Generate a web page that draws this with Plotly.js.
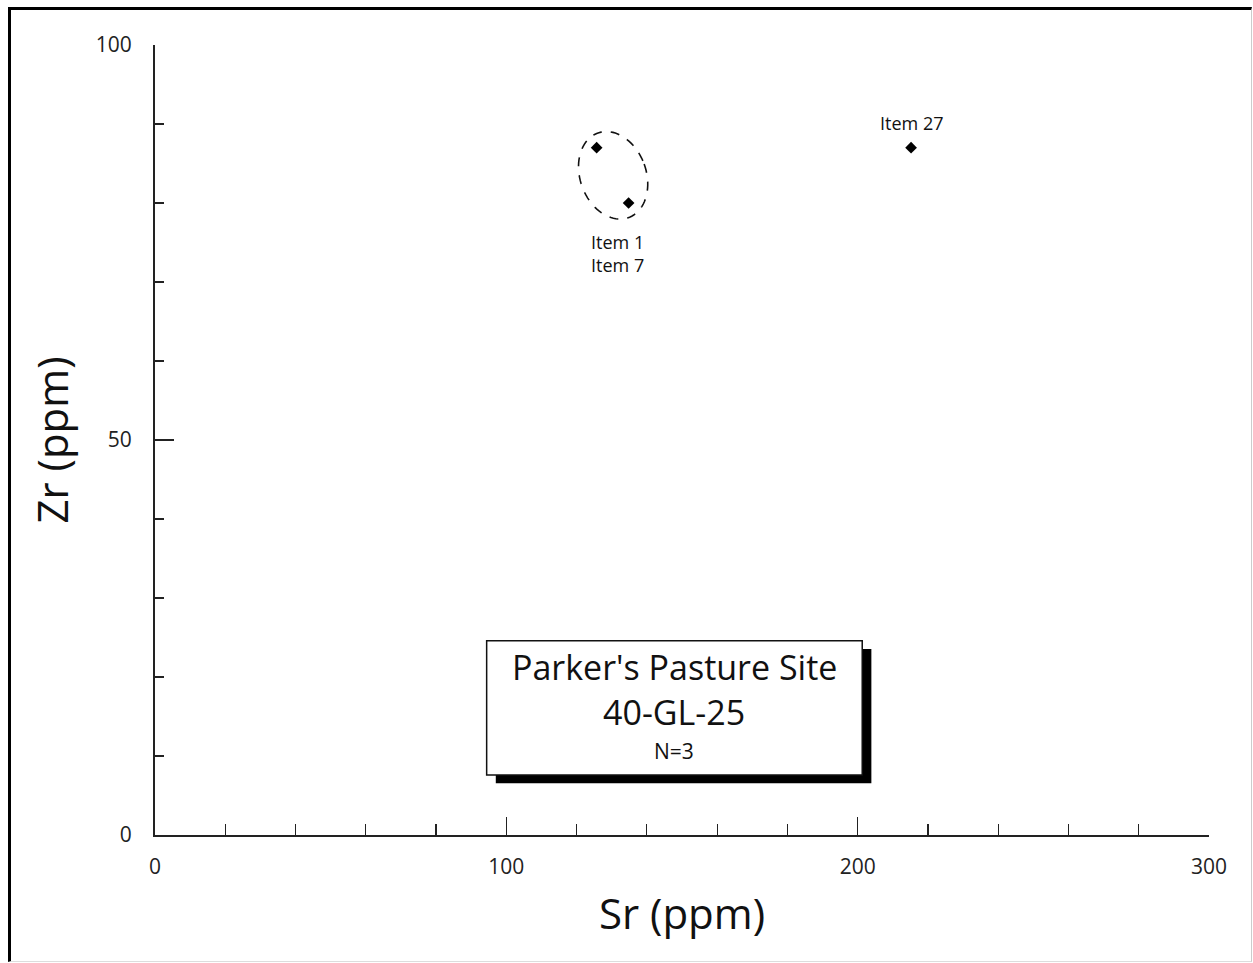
<!DOCTYPE html>
<html>
<head>
<meta charset="utf-8">
<script src="https://cdn.plot.ly/plotly-3.0.1.min.js"></script>
<style>
  html, body { margin: 0; padding: 0; background: #fff; }
  #wrap { position: relative; width: 1253px; height: 963px; }
  #chart { position: absolute; left: 0; top: 0; width: 1253px; height: 963px; }
  #frame { position: absolute; left: 8px; top: 7px; width: 1240px; height: 951px;
           border-top: 3px solid #000; border-left: 3px solid #000;
           border-right: 1px solid #ccc; border-bottom: 1px solid #ddd;
           pointer-events: none; }
</style>
</head>
<body>
<div id="wrap"><div id="chart"></div><div id="frame"></div></div>
<script>
// Data
const itemNames = ["Item 1", "Item 7", "Item 27"];
const srPpm = [125.7, 134.8, 215.2];
const zrPpm = [87, 80, 87];
const pointLabels = ["", "", "Item 27"];
const clusterLabel = "Item 1<br>Item 7";
const xTickVals = [0, 100, 200, 300];
const yTickVals = [0, 50, 100];
const boxLines = ["Parker's Pasture Site", "40-GL-25", "N=3"];

const FONT = "Open Sans, Lato, sans-serif";

const trace = {
  type: "scatter",
  mode: "markers",
  x: srPpm,
  y: zrPpm,
  name: "",
  hovertext: itemNames,
  marker: { symbol: "diamond", size: 9, color: "#000" },
  cliponaxis: false,
  showlegend: false
};

// Dashed tilted ellipse around the Item 1 / Item 7 cluster
const PX_PER_X = 1054 / 300, PX_PER_Y = 790 / 100;
const ell = { cx: 130.4, cy: 83.5, a: 33, b: 45, phi: -20 };
function ellipsePath(e) {
  const ph = e.phi * Math.PI / 180;
  let d = "";
  for (let t = 0; t <= 360; t += 4) {
    const r = t * Math.PI / 180;
    const dx = e.a * Math.cos(r), dy = e.b * Math.sin(r);
    const X = dx * Math.cos(ph) - dy * Math.sin(ph);
    const Y = dx * Math.sin(ph) + dy * Math.cos(ph);
    const xv = e.cx + X / PX_PER_X, yv = e.cy - Y / PX_PER_Y;
    d += (t === 0 ? "M" : "L") + xv.toFixed(3) + "," + yv.toFixed(3);
  }
  return d + "Z";
}

// Text box (data coordinates)
const bx0 = 94.4, bx1 = 201.3, by0 = 7.6, by1 = 24.6;
const shadowDx = 2.6, shadowDy = 1.05;

const pointAnnotations = pointLabels.map((t, i) => t ? {
  xref: "x", yref: "y", x: srPpm[i], y: zrPpm[i], text: t, yshift: 25,
  showarrow: false, font: { family: FONT, size: 18, color: "#111" }
} : null).filter(Boolean);

const layout = {
  width: 1253,
  height: 963,
  margin: { l: 155, r: 44, t: 45, b: 128 },
  paper_bgcolor: "#fff",
  plot_bgcolor: "#fff",
  showlegend: false,
  font: { family: FONT, color: "#111" },
  xaxis: {
    range: [0, 300],
    showgrid: false, zeroline: false,
    showline: true, linecolor: "#222", linewidth: 2,
    ticks: "inside", ticklen: 18, tickwidth: 1.5, tickcolor: "#222",
    tickmode: "array", tickvals: xTickVals,
    ticktext: xTickVals.map(String),
    minor: { dtick: 20, ticks: "inside", ticklen: 11, tickwidth: 1.2, tickcolor: "#222" },
    tickfont: { family: FONT, size: 21, color: "#222" },
    ticklabelstandoff: 12,
    title: { text: "Sr (ppm)", font: { family: FONT, size: 42, color: "#111" }, standoff: 20 },
    fixedrange: true
  },
  yaxis: {
    range: [0, 100],
    showgrid: false, zeroline: false,
    showline: true, linecolor: "#222", linewidth: 2,
    ticks: "inside", ticklen: 19, tickwidth: 1.5, tickcolor: "#222",
    tickmode: "array", tickvals: yTickVals,
    ticktext: yTickVals.map(String),
    minor: { dtick: 10, ticks: "inside", ticklen: 9, tickwidth: 1.2, tickcolor: "#222" },
    tickfont: { family: FONT, size: 21, color: "#222" },
    ticklabelstandoff: 17,
    title: { text: "Zr (ppm)", font: { family: FONT, size: 42, color: "#111" }, standoff: 14 },
    fixedrange: true
  },
  shapes: [
    { type: "path", xref: "x", yref: "y", path: ellipsePath(ell),
      line: { color: "#111", width: 1.6, dash: "dash" } },
    { type: "rect", xref: "x", yref: "y",
      x0: bx0 + shadowDx, x1: bx1 + shadowDx, y0: by0 - shadowDy, y1: by1 - shadowDy,
      fillcolor: "#000", line: { width: 0 }, layer: "above" },
    { type: "rect", xref: "x", yref: "y",
      x0: bx0, x1: bx1, y0: by0, y1: by1,
      fillcolor: "#fff", line: { color: "#111", width: 1.5 }, layer: "above" }
  ],
  annotations: pointAnnotations.concat([
    { xref: "x", yref: "y", x: 131.6, y: 73.6, text: clusterLabel,
      showarrow: false, font: { family: FONT, size: 18, color: "#111" }, align: "center" },
    { xref: "x", yref: "y", x: (bx0 + bx1) / 2, y: 21.3, text: boxLines[0],
      showarrow: false, font: { family: FONT, size: 34, color: "#111" } },
    { xref: "x", yref: "y", x: (bx0 + bx1) / 2, y: 15.6, text: boxLines[1],
      showarrow: false, font: { family: FONT, size: 34, color: "#111" } },
    { xref: "x", yref: "y", x: (bx0 + bx1) / 2, y: 10.6, text: boxLines[2],
      showarrow: false, font: { family: FONT, size: 21, color: "#111" } }
  ])
};

Plotly.newPlot("chart", [trace], layout, { staticPlot: true, displayModeBar: false });
</script>
</body>
</html>
